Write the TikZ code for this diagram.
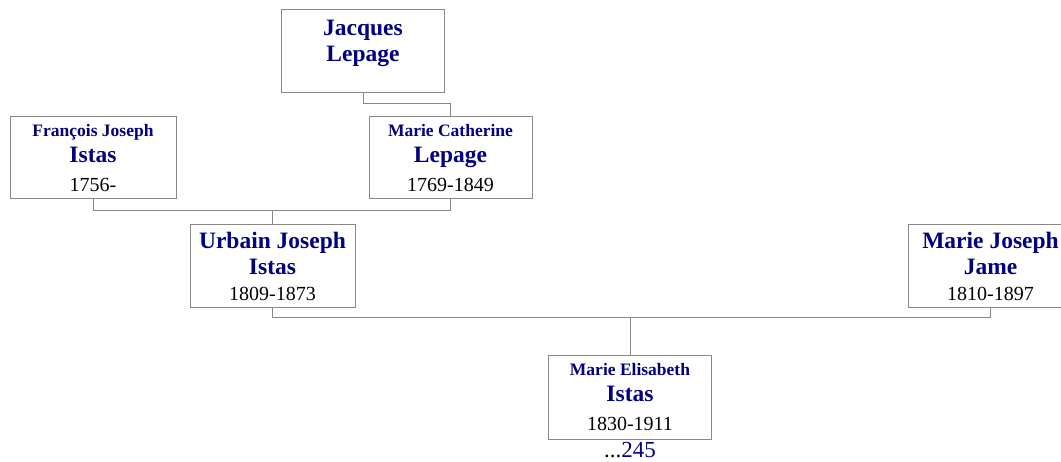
\documentclass[tikz,border=0pt]{standalone}
\usepackage{fontspec}
\setmainfont{Liberation Serif}
\usepackage{tikz}
\usetikzlibrary{positioning, calc}
\definecolor{nameblue}{RGB}{0,0,128}
\definecolor{linegray}{RGB}{136,136,136}
\newcommand{\bignm}{\fontsize{23.5}{26}\selectfont\bfseries\color{nameblue}}
\newcommand{\smallnm}{\fontsize{17.5}{26}\selectfont\bfseries\color{nameblue}}
\newcommand{\datefnt}{\fontsize{20}{26}\selectfont}
\tikzset{
    personbox/.style={rectangle, draw=linegray, line width=1pt, fill=white, minimum width=163pt, minimum height=83pt, inner sep=0pt, align=center, font=\fontsize{20}{26}\selectfont},
    link/.style={draw=linegray, line width=1pt},
    refnode/.style={inner sep=0pt, font=\fontsize{23}{26}\selectfont}
}
\begin{document}
\begin{tikzpicture}[x=1pt, y=-1pt]
\useasboundingbox (0,0) rectangle (1061,462);
% ancestors
\node[personbox] (jacques) at (363,51.5) {{\bignm Jacques}\\{\bignm Lepage}\\[-12pt]\strut};
\node[personbox, minimum width=166pt, minimum height=82pt] (francois) at (93,158) {{\smallnm François Joseph}\\{\bignm Istas}\\[3pt]{\datefnt 1756-}};
\node[personbox, minimum height=82pt] (mcath) at (450.5,158) {{\smallnm Marie Catherine}\\{\bignm Lepage}\\[3pt]{\datefnt 1769-1849}};
% parents
\node[personbox, minimum width=165pt] (urbain) at (272.5,266) {{\bignm Urbain Joseph}\\{\bignm Istas}\\{\datefnt 1809-1873}};
\node[personbox, minimum width=165pt] (mjame) at (990.5,266) {{\bignm Marie Joseph}\\{\bignm Jame}\\{\datefnt 1810-1897}};
% child
\node[personbox] (melis) at (630,397.5) {{\smallnm Marie Elisabeth}\\{\bignm Istas}\\[3pt]{\datefnt 1830-1911}};
\node[refnode] (more) at (630,450) {...\textcolor{nameblue}{245}};
% links
\draw[link] (jacques.south) -- ++(0,10) -| (mcath.north);
\draw[link] (francois.south) -- ++(0,11) coordinate (fbar) -| (mcath.south);
\draw[link] (urbain.north) -- (urbain.north |- fbar);
\draw[link] (urbain.south) -- ++(0,9.5) coordinate (ubar) -| (mjame.south);
\draw[link] (melis.north) -- (melis.north |- ubar);
\end{tikzpicture}
\end{document}
